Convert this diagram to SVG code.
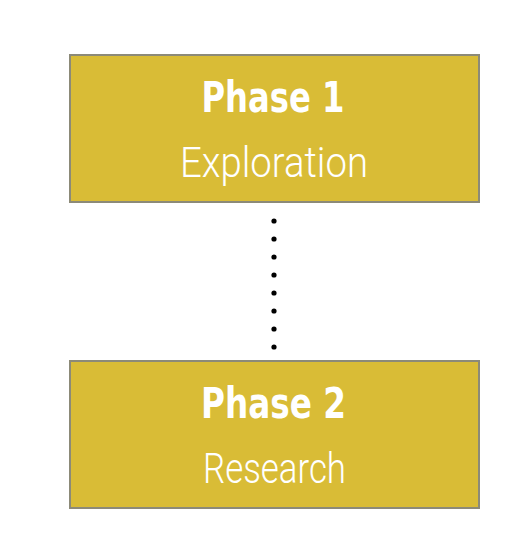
<svg xmlns="http://www.w3.org/2000/svg" width="516" height="544" viewBox="0 0 516 544">
  <style>
    .box { fill: #D9BC36; stroke: #8C8A78; stroke-width: 2; }
    .title { font-family: "DejaVu Sans Condensed", "DejaVu Sans", sans-serif; font-weight: bold; font-size: 43px; fill: #ffffff; text-anchor: middle; }
    .sub { font-family: Roboto, "Liberation Sans", sans-serif; font-weight: 300; font-size: 43px; fill: #ffffff; text-anchor: middle; }
    .dot { fill: #000000; }
  </style>
  <rect width="516" height="544" fill="#ffffff"/>
  <g id="phase1">
    <rect class="box" x="70" y="55" width="409" height="147"/>
    <text class="title" x="273" y="112" textLength="143" lengthAdjust="spacingAndGlyphs">Phase 1</text>
    <text class="sub" x="274" y="177" textLength="188" lengthAdjust="spacingAndGlyphs">Exploration</text>
  </g>
  <g id="phase2">
    <rect class="box" x="70" y="361" width="409" height="147"/>
    <text class="title" x="273.5" y="418" textLength="145" lengthAdjust="spacingAndGlyphs">Phase 2</text>
    <text class="sub" x="274.5" y="483" textLength="143" lengthAdjust="spacingAndGlyphs">Research</text>
  </g>
  <g id="connectors">
    <circle class="dot" cx="274" cy="221" r="2.6"/>
    <circle class="dot" cx="274" cy="239" r="2.6"/>
    <circle class="dot" cx="274" cy="257" r="2.6"/>
    <circle class="dot" cx="274" cy="275" r="2.6"/>
    <circle class="dot" cx="274" cy="293" r="2.6"/>
    <circle class="dot" cx="274" cy="311" r="2.6"/>
    <circle class="dot" cx="274" cy="329" r="2.6"/>
    <circle class="dot" cx="274" cy="347" r="2.6"/>
  </g>
</svg>
